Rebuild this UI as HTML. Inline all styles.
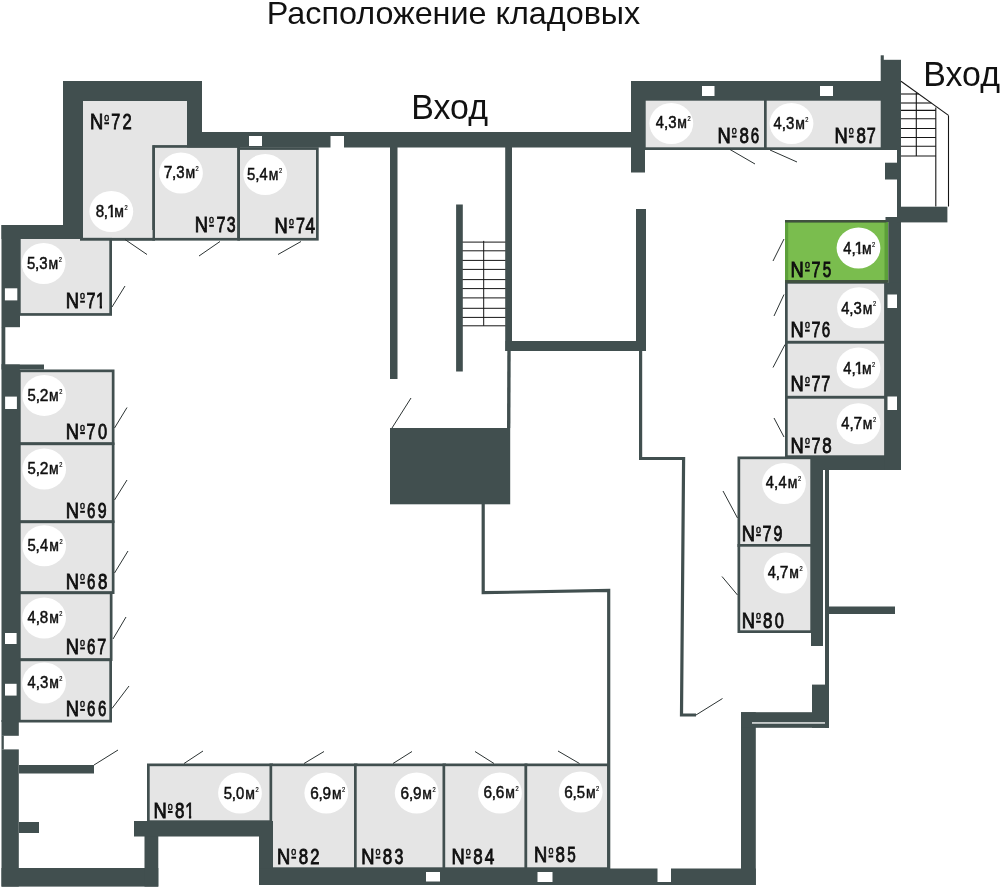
<!DOCTYPE html>
<html><head><meta charset="utf-8"><title>Расположение кладовых</title>
<style>
html,body{margin:0;padding:0;background:#fff;}
body{width:1000px;height:888px;overflow:hidden;font-family:"Liberation Sans",sans-serif;}
svg{display:block;will-change:transform}
svg text{font-family:"Liberation Sans",sans-serif;fill:#111111;}
</style></head><body>
<svg width="1000" height="888" viewBox="0 0 1000 888">
<rect x="0" y="0" width="1000" height="888" fill="#ffffff"/>
<rect x="80" y="101" width="107" height="44.5" fill="#e5e5e5"/>
<rect x="80" y="101" width="75" height="139.3" fill="#414f4f"/>
<rect x="83" y="101" width="69.5" height="136.7" fill="#e5e5e5"/>
<rect x="83" y="101" width="104" height="44.5" fill="#e5e5e5"/>
<rect x="152.3" y="145.1" width="87.7" height="95.5" fill="#414f4f"/>
<rect x="155.0" y="147.79999999999998" width="82.3" height="90.1" fill="#e5e5e5"/>
<rect x="237.3" y="147.2" width="81.4" height="93.4" fill="#414f4f"/>
<rect x="240.0" y="149.89999999999998" width="76.0" height="88.0" fill="#e5e5e5"/>
<rect x="18" y="236" width="94" height="79.8" fill="#414f4f"/>
<rect x="20.7" y="238.7" width="88.6" height="74.4" fill="#e5e5e5"/>
<rect x="83" y="230" width="69.5" height="7.9" fill="#e5e5e5"/>
<rect x="80" y="237.9" width="75" height="2.8" fill="#414f4f"/>
<rect x="18" y="369.5" width="96.5" height="75.5" fill="#414f4f"/>
<rect x="20.7" y="372.2" width="91.1" height="70.1" fill="#e5e5e5"/>
<rect x="18" y="442.5" width="96.5" height="80.5" fill="#414f4f"/>
<rect x="20.7" y="445.2" width="91.1" height="75.1" fill="#e5e5e5"/>
<rect x="18" y="520.5" width="96.5" height="73.5" fill="#414f4f"/>
<rect x="20.7" y="523.2" width="91.1" height="68.1" fill="#e5e5e5"/>
<rect x="18" y="591.5" width="94.5" height="69.5" fill="#414f4f"/>
<rect x="20.7" y="594.2" width="89.1" height="64.1" fill="#e5e5e5"/>
<rect x="18" y="658.5" width="94" height="64.0" fill="#414f4f"/>
<rect x="20.7" y="661.2" width="88.6" height="58.6" fill="#e5e5e5"/>
<rect x="147" y="763.5" width="126" height="59.5" fill="#414f4f"/>
<rect x="149.7" y="766.2" width="120.6" height="54.1" fill="#e5e5e5"/>
<rect x="269.5" y="763.5" width="88.0" height="106.5" fill="#414f4f"/>
<rect x="272.2" y="766.2" width="82.6" height="101.1" fill="#e5e5e5"/>
<rect x="354" y="763.5" width="92" height="106.5" fill="#414f4f"/>
<rect x="356.7" y="766.2" width="86.6" height="101.1" fill="#e5e5e5"/>
<rect x="442.5" y="763.5" width="85.0" height="106.5" fill="#414f4f"/>
<rect x="445.2" y="766.2" width="79.6" height="101.1" fill="#e5e5e5"/>
<rect x="524.5" y="763.5" width="85.5" height="106.5" fill="#414f4f"/>
<rect x="527.2" y="766.2" width="80.1" height="101.1" fill="#e5e5e5"/>
<rect x="643" y="98" width="124" height="52" fill="#414f4f"/>
<rect x="645.7" y="100.7" width="118.6" height="46.6" fill="#e5e5e5"/>
<rect x="764" y="98" width="121" height="52" fill="#414f4f"/>
<rect x="766.7" y="100.7" width="115.6" height="46.6" fill="#e5e5e5"/>
<rect x="785" y="220" width="103.3" height="62.7" fill="#5c9f3a"/>
<rect x="788.2" y="222.5" width="96.3" height="57.5" fill="#7abd4e"/>
<rect x="785" y="281" width="102" height="62.5" fill="#414f4f"/>
<rect x="787.7" y="283.7" width="96.6" height="57.1" fill="#e5e5e5"/>
<rect x="785" y="341" width="102" height="57.5" fill="#414f4f"/>
<rect x="787.7" y="343.7" width="96.6" height="52.1" fill="#e5e5e5"/>
<rect x="785" y="396" width="102" height="62" fill="#414f4f"/>
<rect x="787.7" y="398.7" width="96.6" height="56.6" fill="#e5e5e5"/>
<rect x="737.5" y="456.5" width="75.5" height="90.5" fill="#414f4f"/>
<rect x="740.2" y="459.2" width="70.1" height="85.1" fill="#e5e5e5"/>
<rect x="737.5" y="544" width="75.5" height="89" fill="#414f4f"/>
<rect x="740.2" y="546.7" width="70.1" height="83.6" fill="#e5e5e5"/>
<rect x="785" y="220" width="101.5" height="2.5" fill="#40523f"/>
<rect x="785" y="280" width="103.3" height="2.8" fill="#40523f"/>
<rect x="63" y="81" width="139" height="20" fill="#414f4f"/>
<rect x="63" y="81" width="20" height="158" fill="#414f4f"/>
<rect x="187" y="81" width="15" height="65" fill="#414f4f"/>
<rect x="187" y="132" width="458" height="15.5" fill="#414f4f"/>
<rect x="1.5" y="225" width="81.5" height="14" fill="#414f4f"/>
<rect x="1.5" y="225" width="18.5" height="102.2" fill="#414f4f"/>
<rect x="1.5" y="327" width="3.8" height="38" fill="#414f4f"/>
<rect x="1.5" y="364.5" width="42.5" height="5.0" fill="#414f4f"/>
<rect x="1.5" y="364.5" width="18.3" height="357.5" fill="#414f4f"/>
<rect x="1.5" y="720" width="17.3" height="15.8" fill="#414f4f"/>
<rect x="1.5" y="735.7" width="2.3" height="13.8" fill="#414f4f"/>
<rect x="1.5" y="749.4" width="17.3" height="137.2" fill="#414f4f"/>
<rect x="19" y="765" width="75" height="8.5" fill="#414f4f"/>
<rect x="19" y="822" width="20" height="11" fill="#414f4f"/>
<rect x="1.5" y="868" width="156.8" height="18.6" fill="#414f4f"/>
<rect x="144.5" y="822" width="13.8" height="64.6" fill="#414f4f"/>
<rect x="134" y="821" width="139" height="15.5" fill="#414f4f"/>
<rect x="259" y="836" width="14" height="49" fill="#414f4f"/>
<rect x="259" y="868.5" width="496.8" height="16.5" fill="#414f4f"/>
<rect x="741" y="712.2" width="14.8" height="172.8" fill="#414f4f"/>
<rect x="741" y="712.2" width="88" height="15.6" fill="#414f4f"/>
<rect x="812" y="684.6" width="17" height="43.2" fill="#414f4f"/>
<rect x="825" y="470" width="4" height="257.8" fill="#414f4f"/>
<rect x="829" y="606.5" width="66" height="7.5" fill="#414f4f"/>
<rect x="811" y="456.5" width="12" height="189.5" fill="#414f4f"/>
<rect x="811" y="456.5" width="90" height="13.5" fill="#414f4f"/>
<rect x="888.3" y="217" width="12.7" height="66" fill="#414f4f"/>
<rect x="884.4" y="282.7" width="16.6" height="187.3" fill="#414f4f"/>
<rect x="885.5" y="217" width="15.5" height="5" fill="#414f4f"/>
<rect x="880.7" y="59.8" width="20.3" height="90.2" fill="#414f4f"/>
<rect x="880.7" y="55.3" width="3.1" height="4.7" fill="#414f4f"/>
<rect x="897" y="149" width="4" height="58" fill="#414f4f"/>
<rect x="885" y="162.7" width="12" height="16.8" fill="#414f4f"/>
<rect x="897" y="206.7" width="50.4" height="15.7" fill="#414f4f"/>
<rect x="631" y="81" width="270" height="19" fill="#414f4f"/>
<rect x="631" y="81" width="14" height="91.5" fill="#414f4f"/>
<rect x="636" y="209" width="10" height="142" fill="#414f4f"/>
<rect x="505.2" y="147" width="6.8" height="204" fill="#414f4f"/>
<rect x="505.5" y="341" width="140.5" height="10" fill="#414f4f"/>
<rect x="390" y="147" width="7.5" height="232" fill="#414f4f"/>
<rect x="456.1" y="204.5" width="6.7" height="167.0" fill="#414f4f"/>
<rect x="390" y="428" width="120.2" height="76.3" fill="#414f4f"/>
<rect x="752" y="722.3" width="73" height="1.3" fill="#ffffff"/>
<rect x="249" y="136" width="13" height="10" fill="#ffffff"/>
<rect x="330.5" y="136" width="13.5" height="12" fill="#ffffff"/>
<rect x="702" y="86" width="12.5" height="10" fill="#ffffff"/>
<rect x="820" y="86" width="13" height="10" fill="#ffffff"/>
<rect x="4.9" y="288.3" width="12.4" height="12.1" fill="#ffffff"/>
<rect x="5.1" y="396.6" width="11.8" height="12.4" fill="#ffffff"/>
<rect x="5" y="633" width="11.6" height="11" fill="#ffffff"/>
<rect x="5" y="683.8" width="11.6" height="11.8" fill="#ffffff"/>
<rect x="887.5" y="294.5" width="9.5" height="13.5" fill="#ffffff"/>
<rect x="887.5" y="396.5" width="9.5" height="13.5" fill="#ffffff"/>
<rect x="426" y="872" width="14" height="9.5" fill="#ffffff"/>
<rect x="537.5" y="872" width="15.0" height="10" fill="#ffffff"/>
<rect x="657.5" y="868" width="13.5" height="14" fill="#ffffff"/>
<polyline points="509.0,351 508.7,428" fill="none" stroke="#414f4f" stroke-width="3.4" stroke-linejoin="miter"/>
<polyline points="640.6,351 640.6,458.5 683.6,458.5 681.5,715 696,715" fill="none" stroke="#414f4f" stroke-width="3.2" stroke-linejoin="miter"/>
<polyline points="483.2,504 483.2,592.7 608.7,590.5 608.7,869" fill="none" stroke="#414f4f" stroke-width="3.2" stroke-linejoin="miter"/>
<line x1="462.5" y1="242.1" x2="505.5" y2="242.1" stroke="#161616" stroke-width="1.0"/>
<line x1="462.5" y1="250.8" x2="505.5" y2="250.8" stroke="#161616" stroke-width="1.0"/>
<line x1="462.5" y1="260.4" x2="505.5" y2="260.4" stroke="#161616" stroke-width="1.0"/>
<line x1="462.5" y1="269.4" x2="505.5" y2="269.4" stroke="#161616" stroke-width="1.0"/>
<line x1="462.5" y1="279.6" x2="505.5" y2="279.6" stroke="#161616" stroke-width="1.0"/>
<line x1="462.5" y1="288.6" x2="505.5" y2="288.6" stroke="#161616" stroke-width="1.0"/>
<line x1="462.5" y1="297.9" x2="505.5" y2="297.9" stroke="#161616" stroke-width="1.0"/>
<line x1="462.5" y1="308.3" x2="505.5" y2="308.3" stroke="#161616" stroke-width="1.0"/>
<line x1="462.5" y1="317.4" x2="505.5" y2="317.4" stroke="#161616" stroke-width="1.0"/>
<line x1="462.5" y1="325.8" x2="505.5" y2="325.8" stroke="#161616" stroke-width="1.0"/>
<line x1="483.7" y1="240.9" x2="483.7" y2="325.8" stroke="#161616" stroke-width="1.0"/>
<line x1="901" y1="94" x2="918.7777777777778" y2="94" stroke="#161616" stroke-width="1.1"/>
<line x1="901" y1="103" x2="931.2777777777778" y2="103" stroke="#161616" stroke-width="1.1"/>
<line x1="901" y1="110.4" x2="935.8" y2="110.4" stroke="#161616" stroke-width="1.1"/>
<line x1="901" y1="118.8" x2="935.8" y2="118.8" stroke="#161616" stroke-width="1.1"/>
<line x1="901" y1="128.5" x2="935.8" y2="128.5" stroke="#161616" stroke-width="1.1"/>
<line x1="901" y1="137.5" x2="935.8" y2="137.5" stroke="#161616" stroke-width="1.1"/>
<line x1="901" y1="146.2" x2="935.8" y2="146.2" stroke="#161616" stroke-width="1.1"/>
<line x1="901" y1="156" x2="935.8" y2="156" stroke="#161616" stroke-width="1.1"/>
<line x1="901" y1="81.2" x2="948.5" y2="115.4" stroke="#161616" stroke-width="1.1"/>
<line x1="948.5" y1="115.4" x2="948.5" y2="206.5" stroke="#161616" stroke-width="1.1"/>
<line x1="935.8" y1="107.5" x2="935.8" y2="206.5" stroke="#161616" stroke-width="1.1"/>
<line x1="916.3" y1="93" x2="916.3" y2="156" stroke="#161616" stroke-width="1.1"/>
<line x1="730" y1="149.5" x2="755" y2="164" stroke="#2c3333" stroke-width="1.0"/>
<line x1="125" y1="239.5" x2="147" y2="254.5" stroke="#2c3333" stroke-width="1.0"/>
<line x1="220" y1="241.5" x2="199" y2="256" stroke="#2c3333" stroke-width="1.0"/>
<line x1="112" y1="307" x2="125" y2="286" stroke="#2c3333" stroke-width="1.0"/>
<line x1="114.5" y1="428" x2="127" y2="407.5" stroke="#2c3333" stroke-width="1.0"/>
<line x1="301" y1="241.5" x2="278" y2="254.5" stroke="#2c3333" stroke-width="1.0"/>
<line x1="411" y1="398" x2="392" y2="428" stroke="#2c3333" stroke-width="1.0"/>
<line x1="784" y1="239" x2="773" y2="261" stroke="#2c3333" stroke-width="1.0"/>
<line x1="784" y1="294.5" x2="774" y2="316" stroke="#2c3333" stroke-width="1.0"/>
<line x1="785" y1="344.5" x2="773" y2="367.5" stroke="#2c3333" stroke-width="1.0"/>
<line x1="774" y1="418" x2="784" y2="437" stroke="#2c3333" stroke-width="1.0"/>
<line x1="114.5" y1="500" x2="127" y2="480" stroke="#2c3333" stroke-width="1.0"/>
<line x1="114.5" y1="573" x2="128" y2="551" stroke="#2c3333" stroke-width="1.0"/>
<line x1="113" y1="639" x2="126" y2="617" stroke="#2c3333" stroke-width="1.0"/>
<line x1="723" y1="491" x2="737.5" y2="518" stroke="#2c3333" stroke-width="1.0"/>
<line x1="722" y1="576.5" x2="737.5" y2="595" stroke="#2c3333" stroke-width="1.0"/>
<line x1="94" y1="765" x2="118" y2="750" stroke="#2c3333" stroke-width="1.0"/>
<line x1="112" y1="708.5" x2="129" y2="686" stroke="#2c3333" stroke-width="1.0"/>
<line x1="184" y1="763.5" x2="203" y2="751" stroke="#2c3333" stroke-width="1.0"/>
<line x1="304" y1="763.5" x2="324" y2="751.5" stroke="#2c3333" stroke-width="1.0"/>
<line x1="393" y1="763.5" x2="412" y2="751.5" stroke="#2c3333" stroke-width="1.0"/>
<line x1="494" y1="763.5" x2="475" y2="751.5" stroke="#2c3333" stroke-width="1.0"/>
<line x1="696" y1="715" x2="722.5" y2="698.5" stroke="#2c3333" stroke-width="1.0"/>
<line x1="579.5" y1="763.5" x2="558" y2="751" stroke="#2c3333" stroke-width="1.0"/>
<line x1="770" y1="150" x2="797" y2="162" stroke="#2c3333" stroke-width="1.0"/>
<text x="266.76" y="23.8" font-size="32" text-anchor="start" textLength="373.5" lengthAdjust="spacingAndGlyphs">Расположение кладовых</text>
<text x="411.27" y="118.5" font-size="34.5" text-anchor="start" textLength="76.7" lengthAdjust="spacingAndGlyphs">Вход</text>
<text x="923.3" y="85.8" font-size="34.5" text-anchor="start" textLength="76.7" lengthAdjust="spacingAndGlyphs">Вход</text>
<g aria-label="№72">
<text x="89.92" y="129.2" font-size="21.4" text-anchor="start" textLength="13.25" lengthAdjust="spacingAndGlyphs" stroke="#0c0c0c" stroke-width="0.85">N</text>
<text x="104.18" y="120.85" font-size="10.4" text-anchor="start" textLength="4.95" lengthAdjust="spacingAndGlyphs" stroke="#0c0c0c" stroke-width="0.5">o</text>
<rect x="104.3" y="122.3" width="4.7" height="2.0" fill="#0c0c0c"/>
<text x="111.2" y="129.2" font-size="21.4" text-anchor="start" textLength="8.99" lengthAdjust="spacingAndGlyphs" stroke="#0c0c0c" stroke-width="0.85">7</text>
<text x="122.39" y="129.2" font-size="21.4" text-anchor="start" textLength="9.22" lengthAdjust="spacingAndGlyphs" stroke="#0c0c0c" stroke-width="0.85">2</text>
</g>
<g aria-label="№71">
<text x="65.82" y="307.6" font-size="21.4" text-anchor="start" textLength="13.25" lengthAdjust="spacingAndGlyphs" stroke="#0c0c0c" stroke-width="0.85">N</text>
<text x="80.08" y="299.25" font-size="10.4" text-anchor="start" textLength="4.95" lengthAdjust="spacingAndGlyphs" stroke="#0c0c0c" stroke-width="0.5">o</text>
<rect x="80.2" y="300.7" width="4.7" height="2.0" fill="#0c0c0c"/>
<text x="86.6" y="307.6" font-size="21.4" text-anchor="start" textLength="8.99" lengthAdjust="spacingAndGlyphs" stroke="#0c0c0c" stroke-width="0.85">7</text>
<clipPath id="k1"><polygon points="94.07,286.2 117.47,286.2 117.47,305.7 101.98,305.7 101.98,309.6 99.74,309.6 99.74,305.7 94.07,305.7"/></clipPath>
<text x="96.07" y="307.6" font-size="21.4" text-anchor="start" textLength="9.02" lengthAdjust="spacingAndGlyphs" stroke="#0c0c0c" stroke-width="0.85" clip-path="url(#k1)">1</text>
</g>
<g aria-label="№73">
<text x="194.82" y="231.7" font-size="21.4" text-anchor="start" textLength="13.25" lengthAdjust="spacingAndGlyphs" stroke="#0c0c0c" stroke-width="0.85">N</text>
<text x="209.08" y="223.35" font-size="10.4" text-anchor="start" textLength="4.95" lengthAdjust="spacingAndGlyphs" stroke="#0c0c0c" stroke-width="0.5">o</text>
<rect x="209.2" y="224.8" width="4.7" height="2.0" fill="#0c0c0c"/>
<text x="216.5" y="231.7" font-size="21.4" text-anchor="start" textLength="8.99" lengthAdjust="spacingAndGlyphs" stroke="#0c0c0c" stroke-width="0.85">7</text>
<text x="226.82" y="231.7" font-size="21.4" text-anchor="start" textLength="8.86" lengthAdjust="spacingAndGlyphs" stroke="#0c0c0c" stroke-width="0.85">3</text>
</g>
<g aria-label="№74">
<text x="274.62" y="233.1" font-size="21.4" text-anchor="start" textLength="13.25" lengthAdjust="spacingAndGlyphs" stroke="#0c0c0c" stroke-width="0.85">N</text>
<text x="288.88" y="224.75" font-size="10.4" text-anchor="start" textLength="4.95" lengthAdjust="spacingAndGlyphs" stroke="#0c0c0c" stroke-width="0.5">o</text>
<rect x="289.0" y="226.2" width="4.7" height="2.0" fill="#0c0c0c"/>
<text x="295.9" y="233.1" font-size="21.4" text-anchor="start" textLength="8.99" lengthAdjust="spacingAndGlyphs" stroke="#0c0c0c" stroke-width="0.85">7</text>
<text x="305.43" y="233.1" font-size="21.4" text-anchor="start" textLength="9.55" lengthAdjust="spacingAndGlyphs" stroke="#0c0c0c" stroke-width="0.85">4</text>
</g>
<g aria-label="№70">
<text x="65.82" y="439.0" font-size="21.4" text-anchor="start" textLength="13.25" lengthAdjust="spacingAndGlyphs" stroke="#0c0c0c" stroke-width="0.85">N</text>
<text x="80.08" y="430.65" font-size="10.4" text-anchor="start" textLength="4.95" lengthAdjust="spacingAndGlyphs" stroke="#0c0c0c" stroke-width="0.5">o</text>
<rect x="80.2" y="432.1" width="4.7" height="2.0" fill="#0c0c0c"/>
<text x="86.6" y="439.0" font-size="21.4" text-anchor="start" textLength="8.99" lengthAdjust="spacingAndGlyphs" stroke="#0c0c0c" stroke-width="0.85">7</text>
<text x="97.88" y="439.0" font-size="21.4" text-anchor="start" textLength="9.13" lengthAdjust="spacingAndGlyphs" stroke="#0c0c0c" stroke-width="0.85">0</text>
</g>
<g aria-label="№69">
<text x="65.82" y="517.7" font-size="21.4" text-anchor="start" textLength="13.25" lengthAdjust="spacingAndGlyphs" stroke="#0c0c0c" stroke-width="0.85">N</text>
<text x="80.08" y="509.35" font-size="10.4" text-anchor="start" textLength="4.95" lengthAdjust="spacingAndGlyphs" stroke="#0c0c0c" stroke-width="0.5">o</text>
<rect x="80.2" y="510.8" width="4.7" height="2.0" fill="#0c0c0c"/>
<text x="86.96" y="517.7" font-size="21.4" text-anchor="start" textLength="8.38" lengthAdjust="spacingAndGlyphs" stroke="#0c0c0c" stroke-width="0.85">6</text>
<text x="97.78" y="517.7" font-size="21.4" text-anchor="start" textLength="8.85" lengthAdjust="spacingAndGlyphs" stroke="#0c0c0c" stroke-width="0.85">9</text>
</g>
<g aria-label="№68">
<text x="65.82" y="588.7" font-size="21.4" text-anchor="start" textLength="13.25" lengthAdjust="spacingAndGlyphs" stroke="#0c0c0c" stroke-width="0.85">N</text>
<text x="80.08" y="580.35" font-size="10.4" text-anchor="start" textLength="4.95" lengthAdjust="spacingAndGlyphs" stroke="#0c0c0c" stroke-width="0.5">o</text>
<rect x="80.2" y="581.8" width="4.7" height="2.0" fill="#0c0c0c"/>
<text x="86.96" y="588.7" font-size="21.4" text-anchor="start" textLength="8.38" lengthAdjust="spacingAndGlyphs" stroke="#0c0c0c" stroke-width="0.85">6</text>
<text x="98.09" y="588.7" font-size="21.4" text-anchor="start" textLength="9.42" lengthAdjust="spacingAndGlyphs" stroke="#0c0c0c" stroke-width="0.85">8</text>
</g>
<g aria-label="№67">
<text x="65.82" y="654.3" font-size="21.4" text-anchor="start" textLength="13.25" lengthAdjust="spacingAndGlyphs" stroke="#0c0c0c" stroke-width="0.85">N</text>
<text x="80.08" y="645.95" font-size="10.4" text-anchor="start" textLength="4.95" lengthAdjust="spacingAndGlyphs" stroke="#0c0c0c" stroke-width="0.5">o</text>
<rect x="80.2" y="647.4" width="4.7" height="2.0" fill="#0c0c0c"/>
<text x="86.96" y="654.3" font-size="21.4" text-anchor="start" textLength="8.38" lengthAdjust="spacingAndGlyphs" stroke="#0c0c0c" stroke-width="0.85">6</text>
<text x="97.3" y="654.3" font-size="21.4" text-anchor="start" textLength="8.99" lengthAdjust="spacingAndGlyphs" stroke="#0c0c0c" stroke-width="0.85">7</text>
</g>
<g aria-label="№66">
<text x="65.82" y="715.8" font-size="21.4" text-anchor="start" textLength="13.25" lengthAdjust="spacingAndGlyphs" stroke="#0c0c0c" stroke-width="0.85">N</text>
<text x="80.08" y="707.45" font-size="10.4" text-anchor="start" textLength="4.95" lengthAdjust="spacingAndGlyphs" stroke="#0c0c0c" stroke-width="0.5">o</text>
<rect x="80.2" y="708.9" width="4.7" height="2.0" fill="#0c0c0c"/>
<text x="86.96" y="715.8" font-size="21.4" text-anchor="start" textLength="8.38" lengthAdjust="spacingAndGlyphs" stroke="#0c0c0c" stroke-width="0.85">6</text>
<text x="98.06" y="715.8" font-size="21.4" text-anchor="start" textLength="8.38" lengthAdjust="spacingAndGlyphs" stroke="#0c0c0c" stroke-width="0.85">6</text>
</g>
<g aria-label="№81">
<text x="153.52" y="817.9" font-size="21.4" text-anchor="start" textLength="13.25" lengthAdjust="spacingAndGlyphs" stroke="#0c0c0c" stroke-width="0.85">N</text>
<text x="167.78" y="809.55" font-size="10.4" text-anchor="start" textLength="4.95" lengthAdjust="spacingAndGlyphs" stroke="#0c0c0c" stroke-width="0.5">o</text>
<rect x="167.9" y="811.0" width="4.7" height="2.0" fill="#0c0c0c"/>
<text x="174.99" y="817.9" font-size="21.4" text-anchor="start" textLength="9.42" lengthAdjust="spacingAndGlyphs" stroke="#0c0c0c" stroke-width="0.85">8</text>
<clipPath id="k2"><polygon points="183.27,796.5 206.67,796.5 206.67,816.0 191.18,816.0 191.18,819.9 188.94,819.9 188.94,816.0 183.27,816.0"/></clipPath>
<text x="185.27" y="817.9" font-size="21.4" text-anchor="start" textLength="9.02" lengthAdjust="spacingAndGlyphs" stroke="#0c0c0c" stroke-width="0.85" clip-path="url(#k2)">1</text>
</g>
<g aria-label="№82">
<text x="277.02" y="863.6" font-size="21.4" text-anchor="start" textLength="13.25" lengthAdjust="spacingAndGlyphs" stroke="#0c0c0c" stroke-width="0.85">N</text>
<text x="291.28" y="855.25" font-size="10.4" text-anchor="start" textLength="4.95" lengthAdjust="spacingAndGlyphs" stroke="#0c0c0c" stroke-width="0.5">o</text>
<rect x="291.4" y="856.7" width="4.7" height="2.0" fill="#0c0c0c"/>
<text x="298.79" y="863.6" font-size="21.4" text-anchor="start" textLength="9.42" lengthAdjust="spacingAndGlyphs" stroke="#0c0c0c" stroke-width="0.85">8</text>
<text x="310.19" y="863.6" font-size="21.4" text-anchor="start" textLength="9.22" lengthAdjust="spacingAndGlyphs" stroke="#0c0c0c" stroke-width="0.85">2</text>
</g>
<g aria-label="№83">
<text x="361.32" y="863.6" font-size="21.4" text-anchor="start" textLength="13.25" lengthAdjust="spacingAndGlyphs" stroke="#0c0c0c" stroke-width="0.85">N</text>
<text x="375.58" y="855.25" font-size="10.4" text-anchor="start" textLength="4.95" lengthAdjust="spacingAndGlyphs" stroke="#0c0c0c" stroke-width="0.5">o</text>
<rect x="375.7" y="856.7" width="4.7" height="2.0" fill="#0c0c0c"/>
<text x="382.79" y="863.6" font-size="21.4" text-anchor="start" textLength="9.42" lengthAdjust="spacingAndGlyphs" stroke="#0c0c0c" stroke-width="0.85">8</text>
<text x="394.42" y="863.6" font-size="21.4" text-anchor="start" textLength="8.86" lengthAdjust="spacingAndGlyphs" stroke="#0c0c0c" stroke-width="0.85">3</text>
</g>
<g aria-label="№84">
<text x="451.52" y="863.5" font-size="21.4" text-anchor="start" textLength="13.25" lengthAdjust="spacingAndGlyphs" stroke="#0c0c0c" stroke-width="0.85">N</text>
<text x="465.78" y="855.15" font-size="10.4" text-anchor="start" textLength="4.95" lengthAdjust="spacingAndGlyphs" stroke="#0c0c0c" stroke-width="0.5">o</text>
<rect x="465.9" y="856.6" width="4.7" height="2.0" fill="#0c0c0c"/>
<text x="473.29" y="863.5" font-size="21.4" text-anchor="start" textLength="9.42" lengthAdjust="spacingAndGlyphs" stroke="#0c0c0c" stroke-width="0.85">8</text>
<text x="484.83" y="863.5" font-size="21.4" text-anchor="start" textLength="9.55" lengthAdjust="spacingAndGlyphs" stroke="#0c0c0c" stroke-width="0.85">4</text>
</g>
<g aria-label="№85">
<text x="534.12" y="862.4" font-size="21.4" text-anchor="start" textLength="13.25" lengthAdjust="spacingAndGlyphs" stroke="#0c0c0c" stroke-width="0.85">N</text>
<text x="548.38" y="854.05" font-size="10.4" text-anchor="start" textLength="4.95" lengthAdjust="spacingAndGlyphs" stroke="#0c0c0c" stroke-width="0.5">o</text>
<rect x="548.5" y="855.5" width="4.7" height="2.0" fill="#0c0c0c"/>
<text x="555.59" y="862.4" font-size="21.4" text-anchor="start" textLength="9.42" lengthAdjust="spacingAndGlyphs" stroke="#0c0c0c" stroke-width="0.85">8</text>
<text x="567.21" y="862.4" font-size="21.4" text-anchor="start" textLength="8.5" lengthAdjust="spacingAndGlyphs" stroke="#0c0c0c" stroke-width="0.85">5</text>
</g>
<g aria-label="№86">
<text x="717.52" y="142.5" font-size="21.4" text-anchor="start" textLength="13.25" lengthAdjust="spacingAndGlyphs" stroke="#0c0c0c" stroke-width="0.85">N</text>
<text x="731.78" y="134.15" font-size="10.4" text-anchor="start" textLength="4.95" lengthAdjust="spacingAndGlyphs" stroke="#0c0c0c" stroke-width="0.5">o</text>
<rect x="731.9" y="135.6" width="4.7" height="2.0" fill="#0c0c0c"/>
<text x="739.39" y="142.5" font-size="21.4" text-anchor="start" textLength="9.42" lengthAdjust="spacingAndGlyphs" stroke="#0c0c0c" stroke-width="0.85">8</text>
<text x="750.66" y="142.5" font-size="21.4" text-anchor="start" textLength="8.38" lengthAdjust="spacingAndGlyphs" stroke="#0c0c0c" stroke-width="0.85">6</text>
</g>
<g aria-label="№87">
<text x="834.52" y="142.5" font-size="21.4" text-anchor="start" textLength="13.25" lengthAdjust="spacingAndGlyphs" stroke="#0c0c0c" stroke-width="0.85">N</text>
<text x="848.78" y="134.15" font-size="10.4" text-anchor="start" textLength="4.95" lengthAdjust="spacingAndGlyphs" stroke="#0c0c0c" stroke-width="0.5">o</text>
<rect x="848.9" y="135.6" width="4.7" height="2.0" fill="#0c0c0c"/>
<text x="856.39" y="142.5" font-size="21.4" text-anchor="start" textLength="9.42" lengthAdjust="spacingAndGlyphs" stroke="#0c0c0c" stroke-width="0.85">8</text>
<text x="866.7" y="142.5" font-size="21.4" text-anchor="start" textLength="8.99" lengthAdjust="spacingAndGlyphs" stroke="#0c0c0c" stroke-width="0.85">7</text>
</g>
<g aria-label="№75">
<text x="790.62" y="276.5" font-size="21.4" text-anchor="start" textLength="13.25" lengthAdjust="spacingAndGlyphs" stroke="#0c0c0c" stroke-width="0.85">N</text>
<text x="804.88" y="268.15" font-size="10.4" text-anchor="start" textLength="4.95" lengthAdjust="spacingAndGlyphs" stroke="#0c0c0c" stroke-width="0.5">o</text>
<rect x="805.0" y="269.6" width="4.7" height="2.0" fill="#0c0c0c"/>
<text x="811.4" y="276.5" font-size="21.4" text-anchor="start" textLength="8.99" lengthAdjust="spacingAndGlyphs" stroke="#0c0c0c" stroke-width="0.85">7</text>
<text x="822.71" y="276.5" font-size="21.4" text-anchor="start" textLength="8.5" lengthAdjust="spacingAndGlyphs" stroke="#0c0c0c" stroke-width="0.85">5</text>
</g>
<g aria-label="№76">
<text x="790.62" y="336.6" font-size="21.4" text-anchor="start" textLength="13.25" lengthAdjust="spacingAndGlyphs" stroke="#0c0c0c" stroke-width="0.85">N</text>
<text x="804.88" y="328.25" font-size="10.4" text-anchor="start" textLength="4.95" lengthAdjust="spacingAndGlyphs" stroke="#0c0c0c" stroke-width="0.5">o</text>
<rect x="805.0" y="329.7" width="4.7" height="2.0" fill="#0c0c0c"/>
<text x="811.4" y="336.6" font-size="21.4" text-anchor="start" textLength="8.99" lengthAdjust="spacingAndGlyphs" stroke="#0c0c0c" stroke-width="0.85">7</text>
<text x="821.66" y="336.6" font-size="21.4" text-anchor="start" textLength="8.38" lengthAdjust="spacingAndGlyphs" stroke="#0c0c0c" stroke-width="0.85">6</text>
</g>
<g aria-label="№77">
<text x="790.62" y="391.1" font-size="21.4" text-anchor="start" textLength="13.25" lengthAdjust="spacingAndGlyphs" stroke="#0c0c0c" stroke-width="0.85">N</text>
<text x="804.88" y="382.75" font-size="10.4" text-anchor="start" textLength="4.95" lengthAdjust="spacingAndGlyphs" stroke="#0c0c0c" stroke-width="0.5">o</text>
<rect x="805.0" y="384.2" width="4.7" height="2.0" fill="#0c0c0c"/>
<text x="811.4" y="391.1" font-size="21.4" text-anchor="start" textLength="8.99" lengthAdjust="spacingAndGlyphs" stroke="#0c0c0c" stroke-width="0.85">7</text>
<text x="821.3" y="391.1" font-size="21.4" text-anchor="start" textLength="8.99" lengthAdjust="spacingAndGlyphs" stroke="#0c0c0c" stroke-width="0.85">7</text>
</g>
<g aria-label="№78">
<text x="790.62" y="452.7" font-size="21.4" text-anchor="start" textLength="13.25" lengthAdjust="spacingAndGlyphs" stroke="#0c0c0c" stroke-width="0.85">N</text>
<text x="804.88" y="444.35" font-size="10.4" text-anchor="start" textLength="4.95" lengthAdjust="spacingAndGlyphs" stroke="#0c0c0c" stroke-width="0.5">o</text>
<rect x="805.0" y="445.8" width="4.7" height="2.0" fill="#0c0c0c"/>
<text x="811.4" y="452.7" font-size="21.4" text-anchor="start" textLength="8.99" lengthAdjust="spacingAndGlyphs" stroke="#0c0c0c" stroke-width="0.85">7</text>
<text x="822.29" y="452.7" font-size="21.4" text-anchor="start" textLength="9.42" lengthAdjust="spacingAndGlyphs" stroke="#0c0c0c" stroke-width="0.85">8</text>
</g>
<g aria-label="№79">
<text x="741.72" y="541.1" font-size="21.4" text-anchor="start" textLength="13.25" lengthAdjust="spacingAndGlyphs" stroke="#0c0c0c" stroke-width="0.85">N</text>
<text x="755.98" y="532.75" font-size="10.4" text-anchor="start" textLength="4.95" lengthAdjust="spacingAndGlyphs" stroke="#0c0c0c" stroke-width="0.5">o</text>
<rect x="756.1" y="534.2" width="4.7" height="2.0" fill="#0c0c0c"/>
<text x="762.5" y="541.1" font-size="21.4" text-anchor="start" textLength="8.99" lengthAdjust="spacingAndGlyphs" stroke="#0c0c0c" stroke-width="0.85">7</text>
<text x="773.58" y="541.1" font-size="21.4" text-anchor="start" textLength="8.85" lengthAdjust="spacingAndGlyphs" stroke="#0c0c0c" stroke-width="0.85">9</text>
</g>
<g aria-label="№80">
<text x="741.72" y="627.7" font-size="21.4" text-anchor="start" textLength="13.25" lengthAdjust="spacingAndGlyphs" stroke="#0c0c0c" stroke-width="0.85">N</text>
<text x="755.98" y="619.35" font-size="10.4" text-anchor="start" textLength="4.95" lengthAdjust="spacingAndGlyphs" stroke="#0c0c0c" stroke-width="0.5">o</text>
<rect x="756.1" y="620.8" width="4.7" height="2.0" fill="#0c0c0c"/>
<text x="762.89" y="627.7" font-size="21.4" text-anchor="start" textLength="9.42" lengthAdjust="spacingAndGlyphs" stroke="#0c0c0c" stroke-width="0.85">8</text>
<text x="774.68" y="627.7" font-size="21.4" text-anchor="start" textLength="9.13" lengthAdjust="spacingAndGlyphs" stroke="#0c0c0c" stroke-width="0.85">0</text>
</g>
<g aria-label="8,1м²">
<ellipse cx="111.3" cy="211.5" rx="21.9" ry="20.5" fill="#ffffff"/>
<text x="95.64" y="216.7" font-size="17.15" text-anchor="start" textLength="8.42" lengthAdjust="spacingAndGlyphs" stroke="#0c0c0c" stroke-width="0.5">8</text>
<text x="103.83" y="216.7" font-size="17.15" text-anchor="start" textLength="4.25" lengthAdjust="spacingAndGlyphs" stroke="#0c0c0c" stroke-width="0.5">,</text>
<clipPath id="k3"><polygon points="105.06,199.55 124.21,199.55 124.21,215.12 112.9,215.12 112.9,218.7 110.69,218.7 110.69,215.12 105.06,215.12"/></clipPath>
<text x="107.06" y="216.7" font-size="17.15" text-anchor="start" textLength="8.9" lengthAdjust="spacingAndGlyphs" stroke="#0c0c0c" stroke-width="0.5" clip-path="url(#k3)">1</text>
<text x="114.33" y="216.7" font-size="17.15" text-anchor="start" textLength="9.64" lengthAdjust="spacingAndGlyphs" stroke="#0c0c0c" stroke-width="0.5">м</text>
<text x="124.56" y="209.6" font-size="6.5" text-anchor="start" textLength="3.17" lengthAdjust="spacingAndGlyphs" stroke="#0c0c0c" stroke-width="0.2">2</text>
</g>
<g aria-label="7,3м²">
<ellipse cx="181" cy="173" rx="21.9" ry="20.5" fill="#ffffff"/>
<text x="163.65" y="178.2" font-size="17.15" text-anchor="start" textLength="8.69" lengthAdjust="spacingAndGlyphs" stroke="#0c0c0c" stroke-width="0.5">7</text>
<text x="171.98" y="178.2" font-size="17.15" text-anchor="start" textLength="4.25" lengthAdjust="spacingAndGlyphs" stroke="#0c0c0c" stroke-width="0.5">,</text>
<text x="176.18" y="178.2" font-size="17.15" text-anchor="start" textLength="8.33" lengthAdjust="spacingAndGlyphs" stroke="#0c0c0c" stroke-width="0.5">3</text>
<text x="185.38" y="178.2" font-size="17.15" text-anchor="start" textLength="9.64" lengthAdjust="spacingAndGlyphs" stroke="#0c0c0c" stroke-width="0.5">м</text>
<text x="195.61" y="171.1" font-size="6.5" text-anchor="start" textLength="3.17" lengthAdjust="spacingAndGlyphs" stroke="#0c0c0c" stroke-width="0.2">2</text>
</g>
<g aria-label="5,4м²">
<ellipse cx="265.2" cy="174.5" rx="21.9" ry="20.5" fill="#ffffff"/>
<text x="247.0" y="180.2" font-size="17.15" text-anchor="start" textLength="8.33" lengthAdjust="spacingAndGlyphs" stroke="#0c0c0c" stroke-width="0.5">5</text>
<text x="255.13" y="180.2" font-size="17.15" text-anchor="start" textLength="4.25" lengthAdjust="spacingAndGlyphs" stroke="#0c0c0c" stroke-width="0.5">,</text>
<text x="259.56" y="180.2" font-size="17.15" text-anchor="start" textLength="8.17" lengthAdjust="spacingAndGlyphs" stroke="#0c0c0c" stroke-width="0.5">4</text>
<text x="268.83" y="180.2" font-size="17.15" text-anchor="start" textLength="9.64" lengthAdjust="spacingAndGlyphs" stroke="#0c0c0c" stroke-width="0.5">м</text>
<text x="279.06" y="173.1" font-size="6.5" text-anchor="start" textLength="3.17" lengthAdjust="spacingAndGlyphs" stroke="#0c0c0c" stroke-width="0.2">2</text>
</g>
<g aria-label="5,3м²">
<ellipse cx="43.6" cy="263.5" rx="21.9" ry="20.5" fill="#ffffff"/>
<text x="26.95" y="268.7" font-size="17.15" text-anchor="start" textLength="8.33" lengthAdjust="spacingAndGlyphs" stroke="#0c0c0c" stroke-width="0.5">5</text>
<text x="35.08" y="268.7" font-size="17.15" text-anchor="start" textLength="4.25" lengthAdjust="spacingAndGlyphs" stroke="#0c0c0c" stroke-width="0.5">,</text>
<text x="39.28" y="268.7" font-size="17.15" text-anchor="start" textLength="8.33" lengthAdjust="spacingAndGlyphs" stroke="#0c0c0c" stroke-width="0.5">3</text>
<text x="48.48" y="268.7" font-size="17.15" text-anchor="start" textLength="9.64" lengthAdjust="spacingAndGlyphs" stroke="#0c0c0c" stroke-width="0.5">м</text>
<text x="58.71" y="261.6" font-size="6.5" text-anchor="start" textLength="3.17" lengthAdjust="spacingAndGlyphs" stroke="#0c0c0c" stroke-width="0.2">2</text>
</g>
<g aria-label="5,2м²">
<ellipse cx="44.2" cy="395.4" rx="21.9" ry="20.5" fill="#ffffff"/>
<text x="27.55" y="400.6" font-size="17.15" text-anchor="start" textLength="8.33" lengthAdjust="spacingAndGlyphs" stroke="#0c0c0c" stroke-width="0.5">5</text>
<text x="35.68" y="400.6" font-size="17.15" text-anchor="start" textLength="4.25" lengthAdjust="spacingAndGlyphs" stroke="#0c0c0c" stroke-width="0.5">,</text>
<text x="39.67" y="400.6" font-size="17.15" text-anchor="start" textLength="8.67" lengthAdjust="spacingAndGlyphs" stroke="#0c0c0c" stroke-width="0.5">2</text>
<text x="49.08" y="400.6" font-size="17.15" text-anchor="start" textLength="9.64" lengthAdjust="spacingAndGlyphs" stroke="#0c0c0c" stroke-width="0.5">м</text>
<text x="59.31" y="393.5" font-size="6.5" text-anchor="start" textLength="3.17" lengthAdjust="spacingAndGlyphs" stroke="#0c0c0c" stroke-width="0.2">2</text>
</g>
<g aria-label="5,2м²">
<ellipse cx="44.2" cy="469.0" rx="21.9" ry="20.5" fill="#ffffff"/>
<text x="27.55" y="474.2" font-size="17.15" text-anchor="start" textLength="8.33" lengthAdjust="spacingAndGlyphs" stroke="#0c0c0c" stroke-width="0.5">5</text>
<text x="35.68" y="474.2" font-size="17.15" text-anchor="start" textLength="4.25" lengthAdjust="spacingAndGlyphs" stroke="#0c0c0c" stroke-width="0.5">,</text>
<text x="39.67" y="474.2" font-size="17.15" text-anchor="start" textLength="8.67" lengthAdjust="spacingAndGlyphs" stroke="#0c0c0c" stroke-width="0.5">2</text>
<text x="49.08" y="474.2" font-size="17.15" text-anchor="start" textLength="9.64" lengthAdjust="spacingAndGlyphs" stroke="#0c0c0c" stroke-width="0.5">м</text>
<text x="59.31" y="467.1" font-size="6.5" text-anchor="start" textLength="3.17" lengthAdjust="spacingAndGlyphs" stroke="#0c0c0c" stroke-width="0.2">2</text>
</g>
<g aria-label="5,4м²">
<ellipse cx="44.2" cy="545.8" rx="21.9" ry="20.5" fill="#ffffff"/>
<text x="27.4" y="551.0" font-size="17.15" text-anchor="start" textLength="8.33" lengthAdjust="spacingAndGlyphs" stroke="#0c0c0c" stroke-width="0.5">5</text>
<text x="35.53" y="551.0" font-size="17.15" text-anchor="start" textLength="4.25" lengthAdjust="spacingAndGlyphs" stroke="#0c0c0c" stroke-width="0.5">,</text>
<text x="39.96" y="551.0" font-size="17.15" text-anchor="start" textLength="8.17" lengthAdjust="spacingAndGlyphs" stroke="#0c0c0c" stroke-width="0.5">4</text>
<text x="49.23" y="551.0" font-size="17.15" text-anchor="start" textLength="9.64" lengthAdjust="spacingAndGlyphs" stroke="#0c0c0c" stroke-width="0.5">м</text>
<text x="59.46" y="543.9" font-size="6.5" text-anchor="start" textLength="3.17" lengthAdjust="spacingAndGlyphs" stroke="#0c0c0c" stroke-width="0.2">2</text>
</g>
<g aria-label="4,8м²">
<ellipse cx="44.1" cy="618" rx="21.9" ry="20.5" fill="#ffffff"/>
<text x="27.56" y="622.9" font-size="17.15" text-anchor="start" textLength="8.17" lengthAdjust="spacingAndGlyphs" stroke="#0c0c0c" stroke-width="0.5">4</text>
<text x="35.73" y="622.9" font-size="17.15" text-anchor="start" textLength="4.25" lengthAdjust="spacingAndGlyphs" stroke="#0c0c0c" stroke-width="0.5">,</text>
<text x="39.84" y="622.9" font-size="17.15" text-anchor="start" textLength="8.42" lengthAdjust="spacingAndGlyphs" stroke="#0c0c0c" stroke-width="0.5">8</text>
<text x="49.13" y="622.9" font-size="17.15" text-anchor="start" textLength="9.64" lengthAdjust="spacingAndGlyphs" stroke="#0c0c0c" stroke-width="0.5">м</text>
<text x="59.36" y="615.8" font-size="6.5" text-anchor="start" textLength="3.17" lengthAdjust="spacingAndGlyphs" stroke="#0c0c0c" stroke-width="0.2">2</text>
</g>
<g aria-label="4,3м²">
<ellipse cx="44.1" cy="683" rx="21.9" ry="20.5" fill="#ffffff"/>
<text x="27.56" y="688.2" font-size="17.15" text-anchor="start" textLength="8.17" lengthAdjust="spacingAndGlyphs" stroke="#0c0c0c" stroke-width="0.5">4</text>
<text x="35.73" y="688.2" font-size="17.15" text-anchor="start" textLength="4.25" lengthAdjust="spacingAndGlyphs" stroke="#0c0c0c" stroke-width="0.5">,</text>
<text x="39.93" y="688.2" font-size="17.15" text-anchor="start" textLength="8.33" lengthAdjust="spacingAndGlyphs" stroke="#0c0c0c" stroke-width="0.5">3</text>
<text x="49.13" y="688.2" font-size="17.15" text-anchor="start" textLength="9.64" lengthAdjust="spacingAndGlyphs" stroke="#0c0c0c" stroke-width="0.5">м</text>
<text x="59.36" y="681.1" font-size="6.5" text-anchor="start" textLength="3.17" lengthAdjust="spacingAndGlyphs" stroke="#0c0c0c" stroke-width="0.2">2</text>
</g>
<g aria-label="5,0м²">
<ellipse cx="240" cy="793" rx="21.9" ry="20.5" fill="#ffffff"/>
<text x="223.65" y="799.3" font-size="17.15" text-anchor="start" textLength="8.33" lengthAdjust="spacingAndGlyphs" stroke="#0c0c0c" stroke-width="0.5">5</text>
<text x="231.78" y="799.3" font-size="17.15" text-anchor="start" textLength="4.25" lengthAdjust="spacingAndGlyphs" stroke="#0c0c0c" stroke-width="0.5">,</text>
<text x="235.97" y="799.3" font-size="17.15" text-anchor="start" textLength="8.26" lengthAdjust="spacingAndGlyphs" stroke="#0c0c0c" stroke-width="0.5">0</text>
<text x="245.18" y="799.3" font-size="17.15" text-anchor="start" textLength="9.64" lengthAdjust="spacingAndGlyphs" stroke="#0c0c0c" stroke-width="0.5">м</text>
<text x="255.41" y="792.2" font-size="6.5" text-anchor="start" textLength="3.17" lengthAdjust="spacingAndGlyphs" stroke="#0c0c0c" stroke-width="0.2">2</text>
</g>
<g aria-label="6,9м²">
<ellipse cx="326.3" cy="793" rx="21.9" ry="20.5" fill="#ffffff"/>
<text x="310.17" y="799.3" font-size="17.15" text-anchor="start" textLength="8.56" lengthAdjust="spacingAndGlyphs" stroke="#0c0c0c" stroke-width="0.5">6</text>
<text x="318.48" y="799.3" font-size="17.15" text-anchor="start" textLength="4.25" lengthAdjust="spacingAndGlyphs" stroke="#0c0c0c" stroke-width="0.5">,</text>
<text x="322.53" y="799.3" font-size="17.15" text-anchor="start" textLength="8.55" lengthAdjust="spacingAndGlyphs" stroke="#0c0c0c" stroke-width="0.5">9</text>
<text x="331.88" y="799.3" font-size="17.15" text-anchor="start" textLength="9.64" lengthAdjust="spacingAndGlyphs" stroke="#0c0c0c" stroke-width="0.5">м</text>
<text x="342.11" y="792.2" font-size="6.5" text-anchor="start" textLength="3.17" lengthAdjust="spacingAndGlyphs" stroke="#0c0c0c" stroke-width="0.2">2</text>
</g>
<g aria-label="6,9м²">
<ellipse cx="416.7" cy="793" rx="21.9" ry="20.5" fill="#ffffff"/>
<text x="400.57" y="799.3" font-size="17.15" text-anchor="start" textLength="8.56" lengthAdjust="spacingAndGlyphs" stroke="#0c0c0c" stroke-width="0.5">6</text>
<text x="408.88" y="799.3" font-size="17.15" text-anchor="start" textLength="4.25" lengthAdjust="spacingAndGlyphs" stroke="#0c0c0c" stroke-width="0.5">,</text>
<text x="412.93" y="799.3" font-size="17.15" text-anchor="start" textLength="8.55" lengthAdjust="spacingAndGlyphs" stroke="#0c0c0c" stroke-width="0.5">9</text>
<text x="422.28" y="799.3" font-size="17.15" text-anchor="start" textLength="9.64" lengthAdjust="spacingAndGlyphs" stroke="#0c0c0c" stroke-width="0.5">м</text>
<text x="432.51" y="792.2" font-size="6.5" text-anchor="start" textLength="3.17" lengthAdjust="spacingAndGlyphs" stroke="#0c0c0c" stroke-width="0.2">2</text>
</g>
<g aria-label="6,6м²">
<ellipse cx="500" cy="793" rx="21.9" ry="20.5" fill="#ffffff"/>
<text x="483.47" y="798.2" font-size="17.15" text-anchor="start" textLength="8.56" lengthAdjust="spacingAndGlyphs" stroke="#0c0c0c" stroke-width="0.5">6</text>
<text x="491.78" y="798.2" font-size="17.15" text-anchor="start" textLength="4.25" lengthAdjust="spacingAndGlyphs" stroke="#0c0c0c" stroke-width="0.5">,</text>
<text x="495.77" y="798.2" font-size="17.15" text-anchor="start" textLength="8.56" lengthAdjust="spacingAndGlyphs" stroke="#0c0c0c" stroke-width="0.5">6</text>
<text x="505.18" y="798.2" font-size="17.15" text-anchor="start" textLength="9.64" lengthAdjust="spacingAndGlyphs" stroke="#0c0c0c" stroke-width="0.5">м</text>
<text x="515.41" y="791.1" font-size="6.5" text-anchor="start" textLength="3.17" lengthAdjust="spacingAndGlyphs" stroke="#0c0c0c" stroke-width="0.2">2</text>
</g>
<g aria-label="6,5м²">
<ellipse cx="580.7" cy="792" rx="21.9" ry="20.5" fill="#ffffff"/>
<text x="564.17" y="797.7" font-size="17.15" text-anchor="start" textLength="8.56" lengthAdjust="spacingAndGlyphs" stroke="#0c0c0c" stroke-width="0.5">6</text>
<text x="572.48" y="797.7" font-size="17.15" text-anchor="start" textLength="4.25" lengthAdjust="spacingAndGlyphs" stroke="#0c0c0c" stroke-width="0.5">,</text>
<text x="576.65" y="797.7" font-size="17.15" text-anchor="start" textLength="8.33" lengthAdjust="spacingAndGlyphs" stroke="#0c0c0c" stroke-width="0.5">5</text>
<text x="585.88" y="797.7" font-size="17.15" text-anchor="start" textLength="9.64" lengthAdjust="spacingAndGlyphs" stroke="#0c0c0c" stroke-width="0.5">м</text>
<text x="596.11" y="790.6" font-size="6.5" text-anchor="start" textLength="3.17" lengthAdjust="spacingAndGlyphs" stroke="#0c0c0c" stroke-width="0.2">2</text>
</g>
<g aria-label="4,3м²">
<ellipse cx="671.3" cy="123.5" rx="21.9" ry="20.5" fill="#ffffff"/>
<text x="655.76" y="128.0" font-size="17.15" text-anchor="start" textLength="8.17" lengthAdjust="spacingAndGlyphs" stroke="#0c0c0c" stroke-width="0.5">4</text>
<text x="663.93" y="128.0" font-size="17.15" text-anchor="start" textLength="4.25" lengthAdjust="spacingAndGlyphs" stroke="#0c0c0c" stroke-width="0.5">,</text>
<text x="668.13" y="128.0" font-size="17.15" text-anchor="start" textLength="8.33" lengthAdjust="spacingAndGlyphs" stroke="#0c0c0c" stroke-width="0.5">3</text>
<text x="677.33" y="128.0" font-size="17.15" text-anchor="start" textLength="9.64" lengthAdjust="spacingAndGlyphs" stroke="#0c0c0c" stroke-width="0.5">м</text>
<text x="687.56" y="120.9" font-size="6.5" text-anchor="start" textLength="3.17" lengthAdjust="spacingAndGlyphs" stroke="#0c0c0c" stroke-width="0.2">2</text>
</g>
<g aria-label="4,3м²">
<ellipse cx="791.5" cy="123.5" rx="21.9" ry="20.5" fill="#ffffff"/>
<text x="773.56" y="128.7" font-size="17.15" text-anchor="start" textLength="8.17" lengthAdjust="spacingAndGlyphs" stroke="#0c0c0c" stroke-width="0.5">4</text>
<text x="781.73" y="128.7" font-size="17.15" text-anchor="start" textLength="4.25" lengthAdjust="spacingAndGlyphs" stroke="#0c0c0c" stroke-width="0.5">,</text>
<text x="785.93" y="128.7" font-size="17.15" text-anchor="start" textLength="8.33" lengthAdjust="spacingAndGlyphs" stroke="#0c0c0c" stroke-width="0.5">3</text>
<text x="795.13" y="128.7" font-size="17.15" text-anchor="start" textLength="9.64" lengthAdjust="spacingAndGlyphs" stroke="#0c0c0c" stroke-width="0.5">м</text>
<text x="805.36" y="121.6" font-size="6.5" text-anchor="start" textLength="3.17" lengthAdjust="spacingAndGlyphs" stroke="#0c0c0c" stroke-width="0.2">2</text>
</g>
<g aria-label="4,1м²">
<ellipse cx="858.5" cy="248" rx="21.9" ry="20.5" fill="#ffffff"/>
<text x="843.21" y="254.0" font-size="17.15" text-anchor="start" textLength="8.17" lengthAdjust="spacingAndGlyphs" stroke="#0c0c0c" stroke-width="0.5">4</text>
<text x="851.38" y="254.0" font-size="17.15" text-anchor="start" textLength="4.25" lengthAdjust="spacingAndGlyphs" stroke="#0c0c0c" stroke-width="0.5">,</text>
<clipPath id="k4"><polygon points="852.61,236.85 871.76,236.85 871.76,252.42 860.45,252.42 860.45,256.0 858.24,256.0 858.24,252.42 852.61,252.42"/></clipPath>
<text x="854.61" y="254.0" font-size="17.15" text-anchor="start" textLength="8.9" lengthAdjust="spacingAndGlyphs" stroke="#0c0c0c" stroke-width="0.5" clip-path="url(#k4)">1</text>
<text x="861.88" y="254.0" font-size="17.15" text-anchor="start" textLength="9.64" lengthAdjust="spacingAndGlyphs" stroke="#0c0c0c" stroke-width="0.5">м</text>
<text x="872.11" y="246.9" font-size="6.5" text-anchor="start" textLength="3.17" lengthAdjust="spacingAndGlyphs" stroke="#0c0c0c" stroke-width="0.2">2</text>
</g>
<g aria-label="4,3м²">
<ellipse cx="859" cy="307.7" rx="21.9" ry="20.5" fill="#ffffff"/>
<text x="841.16" y="313.5" font-size="17.15" text-anchor="start" textLength="8.17" lengthAdjust="spacingAndGlyphs" stroke="#0c0c0c" stroke-width="0.5">4</text>
<text x="849.33" y="313.5" font-size="17.15" text-anchor="start" textLength="4.25" lengthAdjust="spacingAndGlyphs" stroke="#0c0c0c" stroke-width="0.5">,</text>
<text x="853.53" y="313.5" font-size="17.15" text-anchor="start" textLength="8.33" lengthAdjust="spacingAndGlyphs" stroke="#0c0c0c" stroke-width="0.5">3</text>
<text x="862.73" y="313.5" font-size="17.15" text-anchor="start" textLength="9.64" lengthAdjust="spacingAndGlyphs" stroke="#0c0c0c" stroke-width="0.5">м</text>
<text x="872.96" y="306.4" font-size="6.5" text-anchor="start" textLength="3.17" lengthAdjust="spacingAndGlyphs" stroke="#0c0c0c" stroke-width="0.2">2</text>
</g>
<g aria-label="4,1м²">
<ellipse cx="858.5" cy="368" rx="21.9" ry="20.5" fill="#ffffff"/>
<text x="843.21" y="373.8" font-size="17.15" text-anchor="start" textLength="8.17" lengthAdjust="spacingAndGlyphs" stroke="#0c0c0c" stroke-width="0.5">4</text>
<text x="851.38" y="373.8" font-size="17.15" text-anchor="start" textLength="4.25" lengthAdjust="spacingAndGlyphs" stroke="#0c0c0c" stroke-width="0.5">,</text>
<clipPath id="k5"><polygon points="852.61,356.65 871.76,356.65 871.76,372.22 860.45,372.22 860.45,375.8 858.24,375.8 858.24,372.22 852.61,372.22"/></clipPath>
<text x="854.61" y="373.8" font-size="17.15" text-anchor="start" textLength="8.9" lengthAdjust="spacingAndGlyphs" stroke="#0c0c0c" stroke-width="0.5" clip-path="url(#k5)">1</text>
<text x="861.88" y="373.8" font-size="17.15" text-anchor="start" textLength="9.64" lengthAdjust="spacingAndGlyphs" stroke="#0c0c0c" stroke-width="0.5">м</text>
<text x="872.11" y="366.7" font-size="6.5" text-anchor="start" textLength="3.17" lengthAdjust="spacingAndGlyphs" stroke="#0c0c0c" stroke-width="0.2">2</text>
</g>
<g aria-label="4,7м²">
<ellipse cx="858.5" cy="423.7" rx="21.9" ry="20.5" fill="#ffffff"/>
<text x="841.26" y="429.4" font-size="17.15" text-anchor="start" textLength="8.17" lengthAdjust="spacingAndGlyphs" stroke="#0c0c0c" stroke-width="0.5">4</text>
<text x="849.43" y="429.4" font-size="17.15" text-anchor="start" textLength="4.25" lengthAdjust="spacingAndGlyphs" stroke="#0c0c0c" stroke-width="0.5">,</text>
<text x="853.4" y="429.4" font-size="17.15" text-anchor="start" textLength="8.69" lengthAdjust="spacingAndGlyphs" stroke="#0c0c0c" stroke-width="0.5">7</text>
<text x="862.83" y="429.4" font-size="17.15" text-anchor="start" textLength="9.64" lengthAdjust="spacingAndGlyphs" stroke="#0c0c0c" stroke-width="0.5">м</text>
<text x="873.06" y="422.3" font-size="6.5" text-anchor="start" textLength="3.17" lengthAdjust="spacingAndGlyphs" stroke="#0c0c0c" stroke-width="0.2">2</text>
</g>
<g aria-label="4,4м²">
<ellipse cx="784" cy="483.5" rx="21.9" ry="20.5" fill="#ffffff"/>
<text x="765.81" y="488.4" font-size="17.15" text-anchor="start" textLength="8.17" lengthAdjust="spacingAndGlyphs" stroke="#0c0c0c" stroke-width="0.5">4</text>
<text x="773.98" y="488.4" font-size="17.15" text-anchor="start" textLength="4.25" lengthAdjust="spacingAndGlyphs" stroke="#0c0c0c" stroke-width="0.5">,</text>
<text x="778.41" y="488.4" font-size="17.15" text-anchor="start" textLength="8.17" lengthAdjust="spacingAndGlyphs" stroke="#0c0c0c" stroke-width="0.5">4</text>
<text x="787.68" y="488.4" font-size="17.15" text-anchor="start" textLength="9.64" lengthAdjust="spacingAndGlyphs" stroke="#0c0c0c" stroke-width="0.5">м</text>
<text x="797.91" y="481.3" font-size="6.5" text-anchor="start" textLength="3.17" lengthAdjust="spacingAndGlyphs" stroke="#0c0c0c" stroke-width="0.2">2</text>
</g>
<g aria-label="4,7м²">
<ellipse cx="785.5" cy="573" rx="21.9" ry="20.5" fill="#ffffff"/>
<text x="767.66" y="578.2" font-size="17.15" text-anchor="start" textLength="8.17" lengthAdjust="spacingAndGlyphs" stroke="#0c0c0c" stroke-width="0.5">4</text>
<text x="775.83" y="578.2" font-size="17.15" text-anchor="start" textLength="4.25" lengthAdjust="spacingAndGlyphs" stroke="#0c0c0c" stroke-width="0.5">,</text>
<text x="779.8" y="578.2" font-size="17.15" text-anchor="start" textLength="8.69" lengthAdjust="spacingAndGlyphs" stroke="#0c0c0c" stroke-width="0.5">7</text>
<text x="789.23" y="578.2" font-size="17.15" text-anchor="start" textLength="9.64" lengthAdjust="spacingAndGlyphs" stroke="#0c0c0c" stroke-width="0.5">м</text>
<text x="799.46" y="571.1" font-size="6.5" text-anchor="start" textLength="3.17" lengthAdjust="spacingAndGlyphs" stroke="#0c0c0c" stroke-width="0.2">2</text>
</g>
</svg>
</body></html>
